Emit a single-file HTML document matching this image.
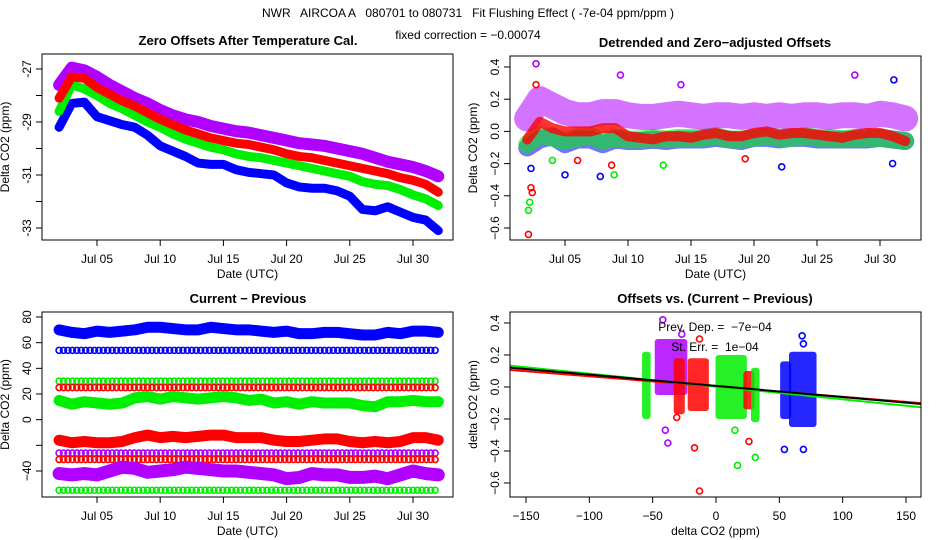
<!DOCTYPE html>
<html><head><meta charset="utf-8">
<style>
body{margin:0;background:#fff;}
svg{display:block;font-family:"Liberation Sans",sans-serif;}
.t{font-size:12px;fill:#000;white-space:pre}
.b{font-size:13px;font-weight:bold;fill:#000}
</style></head>
<body>
<svg id="s" width="936" height="540" xmlns="http://www.w3.org/2000/svg">
<rect width="936" height="540" fill="#fff"/>
<text class="t" x="468" y="17" text-anchor="middle" font-size="13" xml:space="preserve">NWR   AIRCOA A   080701 to 080731   Fit Flushing Effect ( -7e-04 ppm/ppm )</text>
<text class="t" x="468" y="39" text-anchor="middle">fixed correction = −0.00074</text>
</svg>
<script>
// ---------- DATA ----------
const days = [2,3,4,5,6,7,8,9,10,11,12,13,14,15,16,17,18,19,20,21,22,23,24,25,26,27,28,29,30,31,32];
// Panel 1: zero offsets (ppm)
const p1Purple = [-27.6,-26.95,-27.05,-27.3,-27.6,-27.85,-28.1,-28.3,-28.55,-28.75,-28.9,-29.0,-29.15,-29.25,-29.35,-29.4,-29.5,-29.6,-29.7,-29.8,-29.85,-29.9,-30.0,-30.1,-30.2,-30.35,-30.5,-30.6,-30.7,-30.85,-31.05];
const p1Red = [-28.1,-27.3,-27.35,-27.7,-27.95,-28.2,-28.4,-28.65,-28.9,-29.1,-29.3,-29.45,-29.6,-29.7,-29.8,-29.85,-29.95,-30.05,-30.2,-30.3,-30.35,-30.45,-30.55,-30.65,-30.75,-30.85,-30.95,-31.1,-31.2,-31.35,-31.65];
const p1Green = [-28.6,-27.6,-27.75,-28.0,-28.3,-28.5,-28.75,-29.0,-29.2,-29.45,-29.65,-29.8,-29.95,-30.05,-30.2,-30.3,-30.35,-30.45,-30.55,-30.65,-30.75,-30.85,-30.95,-31.05,-31.25,-31.35,-31.4,-31.55,-31.75,-31.9,-32.15];
const p1Blue = [-29.2,-28.3,-28.25,-28.8,-28.95,-29.1,-29.2,-29.5,-29.9,-30.1,-30.3,-30.55,-30.6,-30.6,-30.8,-30.9,-30.95,-31.0,-31.3,-31.45,-31.5,-31.5,-31.6,-31.8,-32.3,-32.35,-32.2,-32.4,-32.6,-32.7,-33.1];
// Panel 2: detrended offsets (ppm)
const p2Blue = [-0.1,-0.05,-0.03,-0.08,-0.05,-0.05,-0.08,-0.05,-0.06,-0.06,-0.05,-0.06,-0.05,-0.05,-0.05,-0.04,-0.05,-0.06,-0.04,-0.04,-0.05,-0.04,-0.04,-0.05,-0.05,-0.05,-0.05,-0.05,-0.04,-0.05,-0.06];
const p2Green = [-0.08,-0.02,-0.04,-0.06,-0.04,-0.03,-0.06,-0.04,-0.05,-0.05,-0.04,-0.05,-0.04,-0.04,-0.04,-0.03,-0.05,-0.05,-0.04,-0.03,-0.04,-0.04,-0.03,-0.04,-0.04,-0.05,-0.04,-0.04,-0.04,-0.05,-0.06];
const p2Purple = [0.08,0.2,0.16,0.12,0.1,0.1,0.12,0.12,0.1,0.09,0.09,0.1,0.11,0.1,0.09,0.1,0.1,0.09,0.1,0.09,0.1,0.09,0.1,0.1,0.09,0.1,0.1,0.09,0.11,0.1,0.08];
const p2Red = [-0.05,0.06,0.02,0.0,0.0,0.0,0.02,0.02,-0.03,-0.04,-0.05,-0.03,-0.03,-0.04,-0.02,-0.01,-0.03,-0.03,-0.01,0.0,-0.02,-0.01,-0.01,-0.02,-0.03,-0.04,-0.02,-0.01,-0.01,-0.03,-0.06];
const p2OutX = [2.1,2.3,2.4,2.7,2.1,2.2,8.9,12.8,2.3,5,7.8,22.2,31,2.7,9.4,28,31.1,4,6,8.7,19.3,14.2];
const p2OutY = [-0.64,-0.35,-0.38,0.29,-0.49,-0.44,-0.27,-0.21,-0.23,-0.27,-0.28,-0.22,-0.2,0.42,0.35,0.35,0.32,-0.18,-0.18,-0.21,-0.17,0.29];
const p2OutC = ["red","red","red","red","green","green","green","green","blue","blue","blue","blue","blue","purple","purple","purple","blue","green","red","red","red","purple"];
// Panel 3: current - previous (ppm)
const p3Blue = [70,68,67,69,68,69,70,72,72,71,70,70,72,71,70,70,69,68,69,67,67,68,68,67,66,66,68,67,69,69,68];
const p3Green = [15,12,14,13,12,13,17,18,16,18,17,16,17,18,17,15,16,13,14,12,14,13,13,13,11,10,14,14,15,14,14];
const p3Red = [-16,-18,-17,-18,-18,-17,-14,-12,-14,-13,-14,-13,-12,-12,-14,-14,-14,-16,-17,-17,-16,-15,-15,-17,-18,-17,-18,-17,-14,-14,-16];
const p3Purple = [-42,-43,-42,-43,-40,-37,-38,-41,-40,-39,-37,-38,-39,-40,-40,-41,-42,-43,-46,-45,-42,-43,-43,-45,-45,-44,-46,-43,-40,-42,-43];
const p3ConstVals = [54,30,25,-26,-31,-55];
const p3ConstCols = ["blue","green","red","purple","red","green"];
// Panel 4: clusters (x = current-previous, y = offset)
const clX0 = [-56,-46,-31,-20,2,24,30,53,60];
const clX1 = [-54,-25,-27,-8,22,28,32,57,77];
const clY0 = [-0.2,-0.05,-0.17,-0.15,-0.2,-0.14,-0.22,-0.2,-0.25];
const clY1 = [0.22,0.3,0.18,0.18,0.2,0.1,0.12,0.16,0.22];
const clC = ["green","purple","red","red","green","red","green","blue","blue"];
const p4OutX = [-42,-38,-40,-27,-13,-17,-13,-31,15,17,31,26,54,69,68,69];
const p4OutY = [0.42,-0.35,-0.27,0.33,0.3,-0.38,-0.65,-0.19,-0.27,-0.49,-0.44,-0.34,-0.39,-0.39,0.32,0.27];
const p4OutC = ["purple","purple","purple","purple","red","red","red","red","green","green","green","red","blue","blue","blue","blue"];
const fitSlope = [-0.0007,-0.00064,-0.0008];
const fitIcpt = [0.007,0.003,0.003];
const fitCol = ["black","red","green"];
const jul = [5,10,15,20,25,30];

// ---------- DRAW ----------
const NS="http://www.w3.org/2000/svg";
const svg=document.getElementById('s');
const COL={blue:"#0000ff",green:"#00ee00",red:"#ff0000",purple:"#b000ff",black:"#000"};
function el(tag,attrs,parent){const e=document.createElementNS(NS,tag);for(const k in attrs)e.setAttribute(k,attrs[k]);(parent||svg).appendChild(e);return e;}
function scale(d0,d1,r0,r1){return v=>r0+(v-d0)*(r1-r0)/(d1-d0);}

function frame(g,x0,y0,x1,y1,title,xlab,ylab,cx){
  const r=el('rect',{x:x0,y:y0,width:x1-x0,height:y1-y0,fill:'none',stroke:'#000'},g);
  
  
  const t=el('text',{x:cx,y:y0-9,'text-anchor':'middle',class:'b'},g);t.textContent=title;
  
  
  const xl=el('text',{x:(x0+x1)/2,y:y1+38,'text-anchor':'middle',class:'t','font-size':'11'},g);xl.textContent=xlab;
  
  
  const yl=el('text',{x:0,y:0,'text-anchor':'middle',class:'t','font-size':'11',transform:`translate(${x0-33},${(y0+y1)/2}) rotate(-90)`},g);yl.textContent=ylab;
  
  
}
function yTicks(g,x0,ys,vals,labels){
  vals.forEach((v,i)=>{const y=ys(v);
    el('line',{x1:x0-6,x2:x0,y1:y,y2:y,stroke:'#000'},g);
    if(labels[i]!==''){const t=el('text',{x:0,y:0,'text-anchor':'middle',class:'t',transform:`translate(${x0-11},${y}) rotate(-90)`},g);t.textContent=labels[i];
    
    }
  });
}
function xTicks(g,y1,xs,vals,labels){
  vals.forEach((v,i)=>{const x=xs(v);
    el('line',{x1:x,x2:x,y1:y1,y2:y1+6,stroke:'#000'},g);
    const t=el('text',{x:x,y:y1+23,'text-anchor':'middle',class:'t'},g);t.textContent=labels[i];
    
    
  });
}
function band(g,xs,ys,xv,yv,col,w,op,name){
  const pts=xv.map((d,i)=>xs(d)+','+ys(yv[i])).join(' ');
  const p=el('polyline',{points:pts,fill:'none',stroke:COL[col],'stroke-width':w,'stroke-linejoin':'round','stroke-linecap':'round',opacity:op},g);
  
  
}
function pt(g,x,y,col){const c=el('circle',{cx:x,cy:y,r:3,fill:'none',stroke:COL[col],'stroke-width':1.6},g);
  
  }
const julLabels=jul.map(d=>'Jul '+String(d).padStart(2,'0'));

// Panel 1
{const g=el('g',{});
 const xs=scale(5,30,97,413), ys=scale(-27,-33,69,228);
 band(g,xs,ys,days,p1Blue,'blue',9,1,'series-blue');
 band(g,xs,ys,days,p1Green,'green',9,1,'series-green');
 band(g,xs,ys,days,p1Purple,'purple',12,1,'series-purple');
 band(g,xs,ys,days,p1Red,'red',9,1,'series-red');
 frame(g,42,54,453,240,'Zero Offsets After Temperature Cal.','Date (UTC)','Delta CO2 (ppm)',248);
 yTicks(g,42,ys,[-27,-28,-29,-30,-31,-32,-33],['-27','','-29','','-31','','-33']);
 xTicks(g,240,xs,jul,julLabels);}
// Panel 2
{const g=el('g',{});
 const xs=scale(5,30,565,880), ys=scale(0.4,-0.6,67,228);
 band(g,xs,ys,days,p2Blue,'blue',18,0.55,'series-blue');
 band(g,xs,ys,days,p2Green,'green',18,0.55,'series-green');
 band(g,xs,ys,days,p2Purple,'purple',26,0.55,'series-purple');
 band(g,xs,ys,days,p2Red,'red',10,0.8,'series-red');
 p2OutX.forEach((d,i)=>pt(g,xs(d),ys(p2OutY[i]),p2OutC[i]));
 frame(g,510,56,921,240,'Detrended and Zero\u2212adjusted Offsets','Date (UTC)','Delta CO2 (ppm)',715);
 yTicks(g,510,ys,[0.4,0.2,0,-0.2,-0.4,-0.6],['0.4','0.2','0.0','\u22120.2','\u22120.4','\u22120.6']);
 xTicks(g,240,xs,jul,julLabels);}
// Panel 3
{const g=el('g',{});
 const xs=scale(5,30,97,413), ys=scale(80,-40,317,471);
 p3ConstVals.forEach((v,i)=>{for(let d=2;d<=32.01;d+=0.35)pt(g,xs(d),ys(v),p3ConstCols[i]);});
 band(g,xs,ys,days,p3Blue,'blue',11,1,'series-blue');
 band(g,xs,ys,days,p3Green,'green',11,1,'series-green');
 band(g,xs,ys,days,p3Red,'red',11,1,'series-red');
 band(g,xs,ys,days,p3Purple,'purple',13,1,'series-purple');
 frame(g,42,312,453,497,'Current \u2212 Previous','Date (UTC)','Delta CO2 (ppm)',248);
 yTicks(g,42,ys,[80,60,40,20,0,-20,-40],['80','60','40','20','0','','\u221240']);
 xTicks(g,497,xs,jul,julLabels);}
// Panel 4
{const g=el('g',{});
 const xs=scale(-150,150,526,906), ys=scale(0.4,-0.6,323,483);
 clX0.forEach((x0,i)=>{const r=el('rect',{x:xs(x0)-3,y:ys(clY1[i]),width:xs(clX1[i])-xs(x0)+6,height:ys(clY0[i])-ys(clY1[i]),rx:3,fill:COL[clC[i]],opacity:0.85},g);
   
   });
 p4OutX.forEach((x,i)=>pt(g,xs(x),ys(p4OutY[i]),p4OutC[i]));
 [1,2,0].forEach(i=>{const l=el('line',{x1:xs(-163),x2:xs(162),y1:ys(fitIcpt[i]+fitSlope[i]*-163),y2:ys(fitIcpt[i]+fitSlope[i]*162),stroke:COL[fitCol[i]],'stroke-width':2},g);
   
   });
 frame(g,510,312,921,497,'Offsets vs. (Current \u2212 Previous)','delta CO2 (ppm)','delta CO2 (ppm)',715);
 yTicks(g,510,ys,[0.4,0.2,0,-0.2,-0.4,-0.6],['0.4','0.2','0.0','\u22120.2','\u22120.4','\u22120.6']);
 xTicks(g,497,xs,[-150,-100,-50,0,50,100,150],['\u2212150','\u2212100','\u221250','0','50','100','150']);
 const a=el('text',{x:715,y:331,'text-anchor':'middle',class:'t'},g);a.textContent='Prev. Dep. =  \u22127e\u221204';
 
 const b=el('text',{x:715,y:351,'text-anchor':'middle',class:'t'},g);b.textContent='St. Err. =  1e\u221204';
 }
</script>
</body></html>
